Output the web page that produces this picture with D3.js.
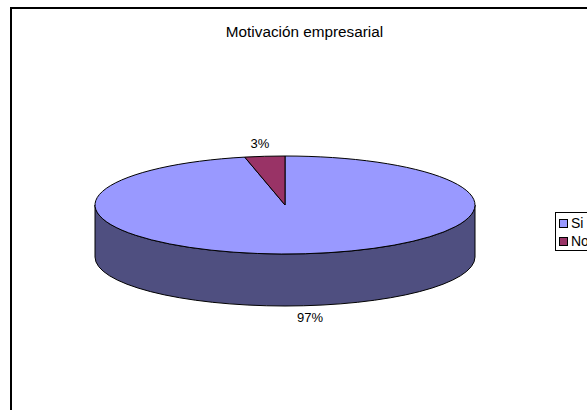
<!DOCTYPE html>
<html>
<head>
<meta charset="utf-8">
<script src="https://cdnjs.cloudflare.com/ajax/libs/d3/7.8.5/d3.min.js"></script>
<style>
  html, body { margin: 0; padding: 0; background: #fff; overflow: hidden; }
  svg { display: block; }
  text { font-family: "Liberation Sans", Arial, sans-serif; fill: #000; }
</style>
</head>
<body>
<div id="chart"></div>
<script>
var chartTitle = 'Motivación empresarial';
var categories = [ 'Si', 'No' ];
var values = [ 96.6, 3.4 ];
var sliceColors = [ '#9999ff', '#993366' ];
var wallColor = '#4f4f80';

var width = 587, height = 410;
var cx = 285, cy = 205, rx = 190, ry = 49, depth = 52;

var color = d3.scaleOrdinal().domain( categories ).range( sliceColors );

var svg = d3.select( '#chart' )
  .append( 'svg' )
    .attr( 'width', width )
    .attr( 'height', height );

// frame runs off the right and bottom of the picture
svg.append( 'rect' )
  .attr( 'x', 11 )
  .attr( 'y', 8 )
  .attr( 'width', width + 20 )
  .attr( 'height', height + 20 )
  .attr( 'fill', '#fff' )
  .attr( 'stroke', '#000' )
  .attr( 'stroke-width', 2 );

svg.append( 'text' )
  .attr( 'x', 304.5 )
  .attr( 'y', 37 )
  .attr( 'text-anchor', 'middle' )
  .style( 'font-size', '15.3px' )
  .text( chartTitle );

// wall of the disc, only the front half shows
svg.append( 'path' )
  .attr( 'd', 'M' + ( cx - rx ) + ',' + cy +
    'A' + rx + ',' + ry + ' 0 0 0 ' + ( cx + rx ) + ',' + cy +
    'V' + ( cy + depth ) +
    'A' + rx + ',' + ry + ' 0 0 1 ' + ( cx - rx ) + ',' + ( cy + depth ) + 'Z' )
  .attr( 'fill', wallColor )
  .attr( 'stroke', '#000' )
  .attr( 'stroke-width', 1 );

var pie = d3.pie().sort( null )( values );
var arc = d3.arc().innerRadius( 0 ).outerRadius( rx );

// flatten the circle into the top of the disc
svg.append( 'g' )
  .attr( 'transform', 'translate(' + cx + ',' + cy + ') scale(1,' + ( ry / rx ) + ')' )
  .selectAll( 'path' )
  .data( pie )
  .enter()
  .append( 'path' )
    .attr( 'd', arc )
    .attr( 'fill', function( d, i ) { return color( categories[i] ); } )
    .attr( 'stroke', '#000' )
    .attr( 'stroke-width', 1 )
    .attr( 'vector-effect', 'non-scaling-stroke' );

var labelPositions = [ [ 310, 322 ], [ 260, 148 ] ];
var total = d3.sum( values );

svg.selectAll( 'text.pct' )
  .data( values )
  .enter()
  .append( 'text' )
    .attr( 'class', 'pct' )
    .attr( 'x', function( d, i ) { return labelPositions[i][0]; } )
    .attr( 'y', function( d, i ) { return labelPositions[i][1]; } )
    .attr( 'text-anchor', 'middle' )
    .style( 'font-size', '13px' )
    .text( function( d ) { return Math.round( d / total * 100 ) + '%'; } );

// legend, cut off by the edge like the original
var legend = svg.append( 'g' );

legend.append( 'rect' )
  .attr( 'x', 555.5 )
  .attr( 'y', 212.5 )
  .attr( 'width', 60 )
  .attr( 'height', 38 )
  .attr( 'fill', '#fff' )
  .attr( 'stroke', '#000' );

var legendRows = legend.selectAll( 'g' )
  .data( categories )
  .enter()
  .append( 'g' )
    .attr( 'transform', function( d, i ) { return 'translate(559,' + ( 219 + i * 18 ) + ')'; } );

legendRows.append( 'rect' )
  .attr( 'x', 0.5 )
  .attr( 'y', 0.5 )
  .attr( 'width', 8 )
  .attr( 'height', 8 )
  .attr( 'fill', function( d ) { return color( d ); } )
  .attr( 'stroke', '#000' );

legendRows.append( 'text' )
  .attr( 'x', 12 )
  .attr( 'y', 8.5 )
  .style( 'font-size', '14px' )
  .text( function( d ) { return d; } );
</script>
</body>
</html>
